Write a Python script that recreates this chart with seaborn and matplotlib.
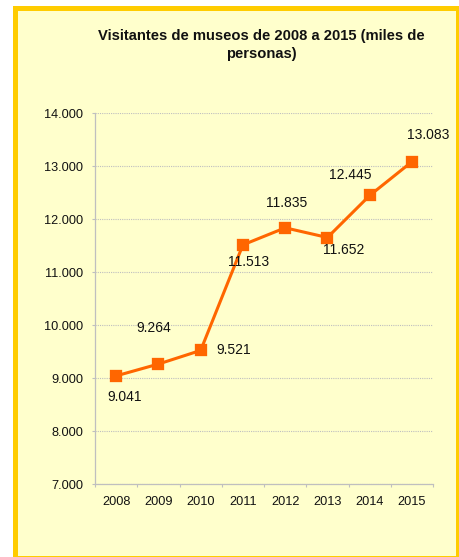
import matplotlib
matplotlib.use("Agg")
import matplotlib.pyplot as plt
import pandas as pd
import seaborn as sns
from matplotlib.patches import Rectangle
from matplotlib.ticker import FixedLocator, FuncFormatter, NullFormatter

years = ["2008", "2009", "2010", "2011", "2012", "2013", "2014", "2015"]
visitors = [9041, 9264, 9521, 11513, 11835, 11652, 12445, 13083]
y_ticks = [7000, 8000, 9000, 10000, 11000, 12000, 13000, 14000]
title = "Visitantes de museos de 2008 a 2015 (miles de\npersonas)"

# label offsets in points (dx, dy) from each marker
label_offsets = [(6, -15), (-3, 26), (24, 0), (4, -12), (1, 18), (12, -9), (-14, 15), (12, 19)]

ORANGE = "#FF6600"
GRID = "#BFBFBF"


def thousands(v):
    return f"{v:,.0f}".replace(",", ".")


def main():
    sns.set_style("white")
    plt.rcParams["font.family"] = ["Liberation Sans", "DejaVu Sans"]

    df = pd.DataFrame({"year": years, "visitors": visitors})

    fig = plt.figure(figsize=(4.6, 5.57), dpi=100)
    fig.patch.set_facecolor("white")

    # pale yellow frame with gold border
    frame = Rectangle((15.5 / 460, -0.0009), 443 / 460, 0.9874, transform=fig.transFigure,
                      facecolor="#FFFFCC", edgecolor="#FFCC00", linewidth=3.6, clip_on=False, zorder=-10)
    fig.patches.append(frame)

    ax = fig.add_axes([0.2065, 0.131, 0.735, 0.666])
    ax.set_facecolor("none")

    sns.pointplot(data=df, x="year", y="visitors", ax=ax, color=ORANGE, errorbar=None,
                  marker="s", markersize=7.2, linewidth=2.2)

    ax.set_ylim(7000, 14000)
    ax.set_xlim(-0.5, len(years) - 0.5)
    ax.yaxis.set_major_locator(FixedLocator(y_ticks))
    ax.yaxis.set_major_formatter(FuncFormatter(lambda v, p: thousands(v)))

    # ticks between categories, labels at centres
    ax.xaxis.set_major_locator(FixedLocator([i - 0.5 for i in range(len(years) + 1)]))
    ax.xaxis.set_major_formatter(NullFormatter())
    ax.xaxis.set_minor_locator(FixedLocator(list(range(len(years)))))
    ax.set_xticklabels(years, minor=True)
    ax.tick_params(axis="x", which="major", length=2.2, width=0.8, color=GRID, direction="out")
    ax.tick_params(axis="x", which="minor", length=0, pad=8.5, labelsize=9.2, labelcolor="#111111")
    ax.tick_params(axis="y", length=2.4, width=0.8, color=GRID, direction="out", pad=6.3,
                   labelsize=9.2, labelcolor="#111111")
    ax.tick_params(bottom=True, left=True)

    ax.grid(axis="y", color=GRID, linestyle=(0, (1, 1)), linewidth=0.8)
    ax.set_axisbelow(True)
    for side in ["top", "right"]:
        ax.spines[side].set_visible(False)
    for side in ["left", "bottom"]:
        ax.spines[side].set_color(GRID)
        ax.spines[side].set_linewidth(0.9)

    ax.set_xlabel("")
    ax.set_ylabel("")

    for i, (v, off) in enumerate(zip(visitors, label_offsets)):
        ax.annotate(thousands(v), (i, v), xytext=off, textcoords="offset points",
                    ha="center", va="center", fontsize=10, color="#111111")

    fig.text(261 / 460, 1 - 45 / 557, title, ha="center", va="center", fontsize=10.6,
             fontweight="bold", linespacing=1.3, color="#111111")

    fig.savefig("out.png", dpi=100)
    plt.close(fig)


if __name__ == "__main__":
    main()
